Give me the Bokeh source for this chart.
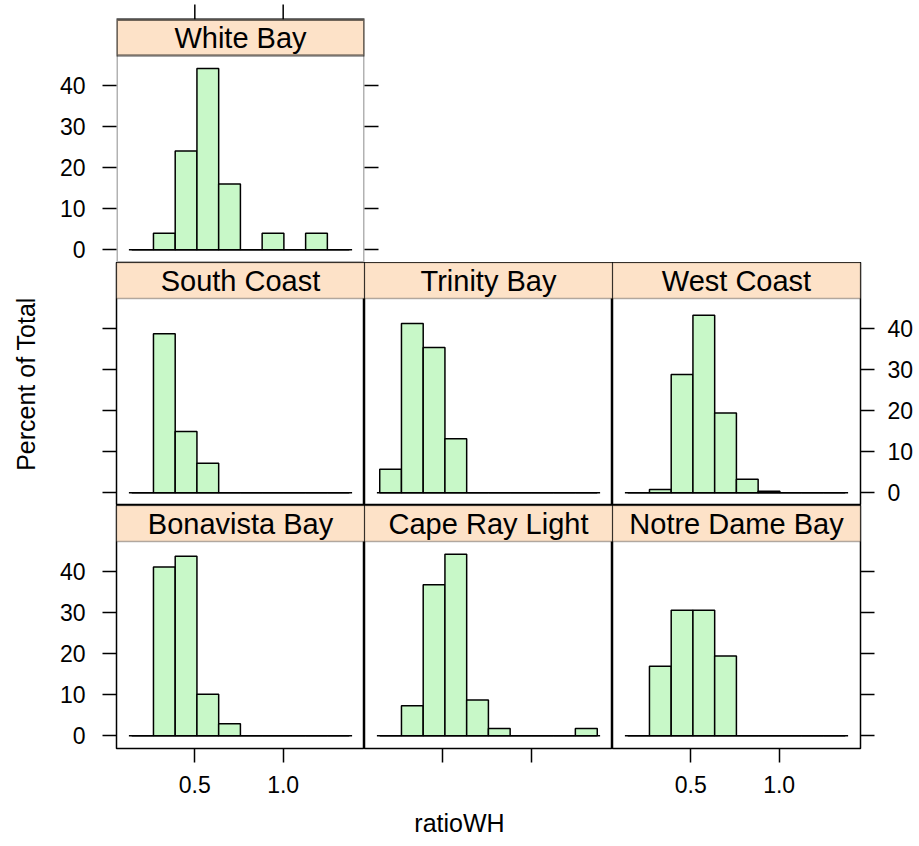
from bokeh.plotting import figure
from bokeh.layouts import column, row
from bokeh.models import Range1d, FixedTicker, LinearAxis, Label, BoxAnnotation
from bokeh.embed import file_html
from bokeh.resources import INLINE

# ---------------- data ----------------
panel_names = ["White Bay", "South Coast", "Trinity Bay", "West Coast",
               "Bonavista Bay", "Cape Ray Light", "Notre Dame Bay"]
breaks = [0.143, 0.266, 0.389, 0.512, 0.635, 0.758, 0.881, 1.004, 1.127, 1.250, 1.374]
white_bay = [0, 4, 24, 44, 16, 0, 4, 0, 4, 0]
south_coast = [0, 38.6, 14.9, 7.2, 0, 0, 0, 0, 0, 0]
trinity_bay = [5.7, 41.1, 35.3, 13.1, 0, 0, 0, 0, 0, 0]
west_coast = [0, 0.8, 28.7, 43.1, 19.4, 3.3, 0.4, 0, 0, 0]
bonavista_bay = [0, 41.0, 43.6, 10.1, 2.9, 0, 0, 0, 0, 0]
cape_ray_light = [0, 7.3, 36.7, 44.1, 8.7, 1.8, 0, 0, 0, 1.8]
notre_dame_bay = [0, 16.9, 30.5, 30.5, 19.4, 0, 0, 0, 0, 0]
x_ticks = [0.5, 1.0]
x_tick_labels = ["0.5", "1.0"]
y_ticks = [0, 10, 20, 30, 40]
x_title = "ratioWH"
y_title = "Percent of Total"

# ---------------- layout / style ----------------
FONT = "Liberation Sans"
FW, FH, STRIP = 248, 243, 36
LEFT, RIGHT, TOP, BOTTOM = 116, 59, 19, 58
TICK = 14
STRIP_COLOR = "#FDE2C8"
BAR_COLOR = "#C8F8C8"
LW = 1.5
PAGE_W, XLAB_H = 903, 32

all_vals = white_bay + south_coast + trinity_bay + west_coast + bonavista_bay + cape_ray_light + notre_dame_bay
xr = breaks[-1] - breaks[0]
xlo, xhi = breaks[0] - 0.07 * xr, breaks[-1] + 0.07 * xr
ymax = max(all_vals)
ylo, yhi = -0.07 * ymax, 1.07 * ymax
ypx = (yhi - ylo) / (FH - STRIP)          # data units per pixel
ytop = yhi + STRIP * ypx                  # top of a panel (strip included)


def px_x(px):
    return xlo + px * (xhi - xlo) / FW


def add_axis(p, side, labels, standoff=9, tick_out=TICK):
    dim_x = side in ("above", "below")
    ax = LinearAxis(ticker=FixedTicker(ticks=x_ticks if dim_x else y_ticks),
                    axis_line_color=None,
                    major_tick_line_color="black", major_tick_line_width=LW,
                    major_tick_in=0, major_tick_out=tick_out,
                    minor_tick_line_color=None,
                    major_label_text_font=FONT, major_label_text_font_size="23px",
                    major_label_standoff=standoff)
    if dim_x:
        ax.major_label_overrides = dict(zip(x_ticks, x_tick_labels))
    if labels:
        ax.major_label_text_color = "black"
    else:
        ax.major_label_text_color = None
        ax.major_label_standoff = 0
    p.add_layout(ax, side)
    return ax


def make_panel(name, vals, axes=(), borders=None, top_ticks=False):
    borders = borders or {}
    extra = TOP if top_ticks else 0
    p = figure(frame_width=FW, frame_height=FH + extra, title=None,
               x_range=Range1d(xlo, xhi), y_range=Range1d(ylo, ytop + extra * ypx),
               output_backend="svg", toolbar_location=None,
               x_axis_location=None, y_axis_location=None,
               background_fill_color="white", border_fill_color="white",
               outline_line_color=None if top_ticks else "black",
               outline_line_width=LW)
    p.min_border = 0
    p.min_border_left = borders.get("left", 0)
    p.min_border_right = borders.get("right", 0)
    p.min_border_bottom = borders.get("bottom", 0)
    p.grid.visible = False
    for spec in axes:
        add_axis(p, *spec)
    # baseline (lattice draws it from 5% to 95% of the panel width)
    p.segment(x0=[px_x(0.05 * FW)], x1=[px_x(0.95 * FW)], y0=[0], y1=[0],
              line_color="black", line_width=LW)
    p.quad(left=breaks[:-1], right=breaks[1:], bottom=0, top=vals,
           fill_color=BAR_COLOR, line_color="black", line_width=LW)
    # strip
    p.add_layout(BoxAnnotation(bottom=yhi, top=ytop, fill_color=STRIP_COLOR, fill_alpha=1,
                               line_color="black", line_width=LW))
    p.add_layout(Label(x=(xlo + xhi) / 2, y=(yhi + ytop) / 2, text=name,
                       text_align="center", text_baseline="middle",
                       text_font=FONT, text_font_size="29px", text_color="black"))
    if top_ticks:
        # panel box drawn by hand (frame is taller to hold the top ticks);
        # edges on the frame border are half clipped, hence the double width
        p.add_layout(BoxAnnotation(top=ytop, fill_color=None, fill_alpha=0,
                                   line_color="black", line_width=2 * LW))
        p.add_layout(BoxAnnotation(bottom=yhi, top=ytop, fill_color=None, fill_alpha=0,
                                   line_color="black", line_width=2 * LW))
        p.segment(x0=x_ticks, x1=x_ticks, y0=ytop, y1=ytop + 15 * ypx,
                  line_color="black", line_width=LW)
    return p


wb = make_panel(panel_names[0], white_bay,
                axes=[("left", True, 17), ("right", False)],
                borders=dict(left=LEFT, right=15), top_ticks=True)
sc = make_panel(panel_names[1], south_coast, axes=[], borders=dict(left=LEFT))
tb = make_panel(panel_names[2], trinity_bay)
wc = make_panel(panel_names[3], west_coast, axes=[("right", True, 13)],
                borders=dict(right=RIGHT))
bb = make_panel(panel_names[4], bonavista_bay,
                axes=[("left", True, 17), ("below", True, 13)],
                borders=dict(left=LEFT, bottom=BOTTOM))
cr = make_panel(panel_names[5], cape_ray_light, axes=[("below", False)],
                borders=dict(bottom=BOTTOM))
nd = make_panel(panel_names[6], notre_dame_bay,
                axes=[("below", True, 13), ("right", False)],
                borders=dict(right=RIGHT, bottom=BOTTOM))

# y-axis title on the middle-left panel's (tick-only) axis
yax = add_axis(sc, "left", False)
yax.axis_label = y_title
yax.axis_label_standoff = 63
yax.axis_label_text_font = FONT
yax.axis_label_text_font_size = "25px"
yax.axis_label_text_font_style = "normal"
yax.axis_label_text_color = "black"

# x-axis title: a thin strip under the panels, centred on the page
xlab = figure(width=PAGE_W, height=XLAB_H, title=None,
              x_range=Range1d(0, PAGE_W), y_range=Range1d(0, XLAB_H),
              output_backend="svg", toolbar_location=None,
              x_axis_location=None, y_axis_location=None,
              background_fill_color="white", border_fill_color="white",
              outline_line_color=None, min_border=0)
xlab.grid.visible = False
xlab.add_layout(Label(x=459, y=XLAB_H / 2, text=x_title,
                      text_align="center", text_baseline="middle",
                      text_font=FONT, text_font_size="25px", text_color="black"))

layout = column(row(wb), row(sc, tb, wc), row(bb, cr, nd), xlab)

open("out.html", "w").write(file_html(layout, INLINE))
